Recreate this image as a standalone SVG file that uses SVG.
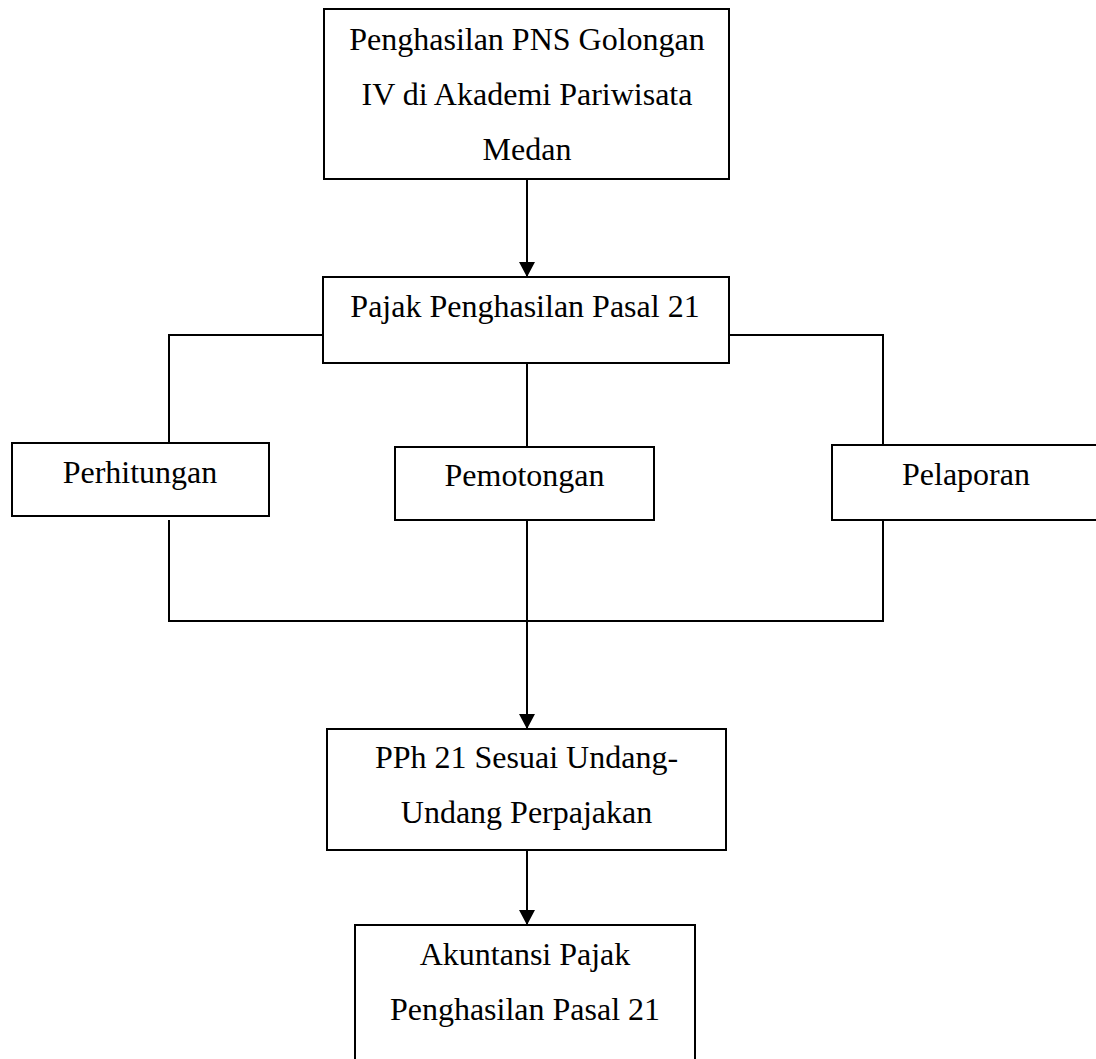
<svg xmlns="http://www.w3.org/2000/svg" width="1096" height="1059" viewBox="0 0 1096 1059">
<style>
.box{fill:#fff;stroke:#000;stroke-width:2}
.lbl{font-family:"Liberation Serif","Times New Roman",serif;font-size:32px;fill:#000;text-anchor:middle}
.con{fill:none;stroke:#000;stroke-width:2}
</style>
<defs>
<marker id="arr" markerUnits="userSpaceOnUse" markerWidth="16" markerHeight="16" refX="15" refY="8" orient="auto">
<path d="M0,0 L15,8 L0,16 Z" fill="#000"/>
</marker>
</defs>
<rect width="1096" height="1059" fill="#fff"/>
<g id="connectors">
<line class="con" x1="527" y1="179" x2="527" y2="277" marker-end="url(#arr)"/>
<polyline class="con" points="323,335 169,335 169,443"/>
<polyline class="con" points="729,335 883,335 883,445"/>
<line class="con" x1="527" y1="363" x2="527" y2="447" stroke-width="1.5"/>
<polyline class="con" points="169,520 169,621 883,621 883,520"/>
<line class="con" x1="527" y1="520" x2="527" y2="729" marker-end="url(#arr)"/>
<line class="con" x1="527" y1="850" x2="527" y2="925" marker-end="url(#arr)"/>
</g>
<g id="node-penghasilan">
<rect class="box" x="324" y="9" width="405" height="170"/>
<text class="lbl" x="527" y="50">Penghasilan PNS Golongan</text>
<text class="lbl" x="527" y="105">IV di Akademi Pariwisata</text>
<text class="lbl" x="527" y="160">Medan</text>
</g>
<g id="node-pajak">
<rect class="box" x="323" y="277" width="406" height="86"/>
<text class="lbl" x="525" y="317">Pajak Penghasilan Pasal 21</text>
</g>
<g id="node-perhitungan">
<rect class="box" x="12" y="443" width="257" height="73"/>
<text class="lbl" x="140" y="483">Perhitungan</text>
</g>
<g id="node-pemotongan">
<rect class="box" x="395" y="447" width="259" height="73"/>
<text class="lbl" x="524.5" y="486">Pemotongan</text>
</g>
<g id="node-pelaporan">
<rect class="box" x="832" y="445" width="270" height="75"/>
<text class="lbl" x="966" y="485">Pelaporan</text>
</g>
<g id="node-pph21">
<rect class="box" x="327" y="729" width="399" height="121"/>
<text class="lbl" x="526.5" y="768">PPh 21 Sesuai Undang-</text>
<text class="lbl" x="526.5" y="823">Undang Perpajakan</text>
</g>
<g id="node-akuntansi">
<rect class="box" x="355" y="925" width="340" height="145"/>
<text class="lbl" x="525" y="965">Akuntansi Pajak</text>
<text class="lbl" x="525" y="1020">Penghasilan Pasal 21</text>
</g>
</svg>
